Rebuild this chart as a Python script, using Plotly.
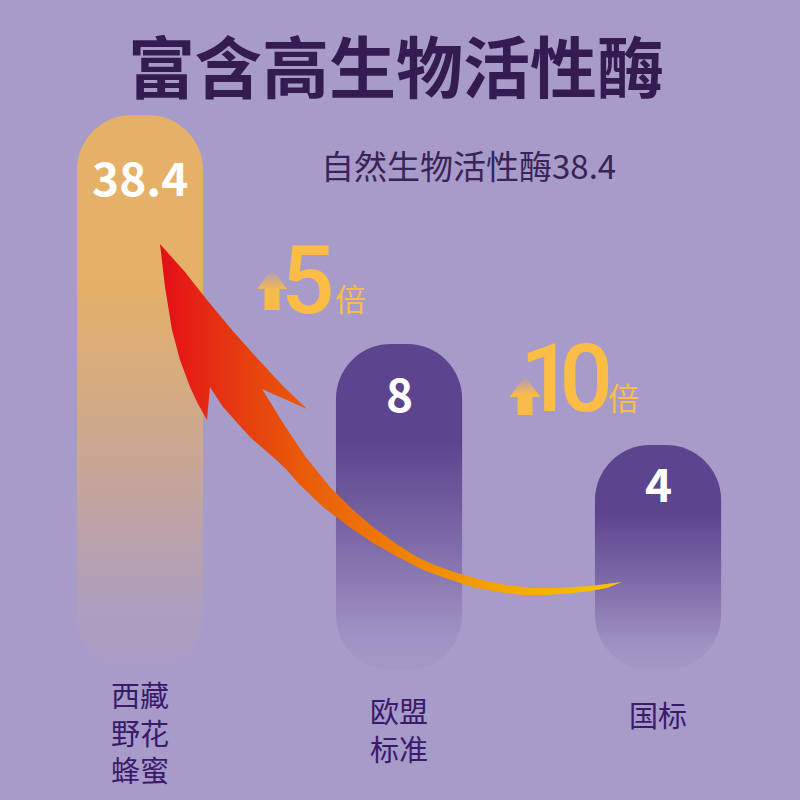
import math
import plotly.graph_objects as go

# ---------------- data ----------------
categories = ["西藏<br>野花<br>蜂蜜", "欧盟<br>标准", "国标"]
values = [38.4, 8, 4]
value_labels = ["38.4", "8", "4"]
title_text = "富含高生物活性酶"
subtitle_prefix = "自然生物活性酶"
ratio_unit = "倍"

# ---------------- style ----------------
BG = "#a79bc9"
BG_RGB = "167,155,201"
bar_colors = ["#e5b067", "#5d448e", "#5d448e"]
label_offsets = [-61, -48, -37]
cat_label_y = [731, 729, 714]
GOLD = "#fbbd45"
TITLE_C = "#341b50"
TEXT_C = "#3a2356"
LABEL_C = "#3b1a6a"
CJK = "Noto Sans CJK SC"
NUM_FONT = "Roboto"

W = H = 800
PLOT_BOTTOM = 670          # pixel row of the bars' base
PX_PER_DECADE = 336
Y_LOW = -0.0675
Y_HIGH = Y_LOW + PLOT_BOTTOM / PX_PER_DECADE
BASE = 10 ** Y_LOW
BAR_W = 0.487
X_RANGE = [-0.5405, 2.548]
FADE_FRAC = 0.7

xs = list(range(len(values)))
fig = go.Figure()

# bars (log scale)
fig.add_trace(go.Bar(
    x=xs, y=[v - BASE for v in values], base=BASE, width=BAR_W,
    marker=dict(color=bar_colors, line=dict(width=0)),
    hoverinfo="skip", showlegend=False,
))

# fading overlays at the bottom of each bar
for i, v in enumerate(values):
    top = 10 ** (Y_LOW + FADE_FRAC * (math.log10(v) - Y_LOW))
    hw = BAR_W / 2 + 0.006
    fig.add_trace(go.Scatter(
        x=[i - hw, i + hw, i + hw, i - hw, i - hw],
        y=[BASE, BASE, top, top, BASE],
        mode="lines", line=dict(width=0, color="rgba(0,0,0,0)"),
        fill="toself",
        fillgradient=dict(type="vertical", colorscale=[
            [0, f"rgba({BG_RGB},0.97)"], [0.15, f"rgba({BG_RGB},0.9)"],
            [0.6, f"rgba({BG_RGB},0.4)"], [1, f"rgba({BG_RGB},0)"]]),
        hoverinfo="skip", showlegend=False,
    ))

# ---------------- decorations in pixel space (x2/y2) ----------------
arrow_path = [
    (160, 244), (185, 272), (207, 300), (232, 330), (257, 358), (282, 385), (307, 409),
    (262, 389), (283, 423), (305, 456), (330, 487), (352, 509), (373, 527), (395, 543),
    (417, 557), (437, 566), (457, 573), (482, 580), (507, 585), (532, 588), (557, 588),
    (590, 586), (622, 582),
    (607, 588), (590, 591), (573, 593), (548, 595), (523, 595), (498, 592), (473, 587),
    (448, 579), (423, 570), (398, 557), (373, 543), (348, 526), (323, 507), (298, 483),
    (287, 470), (273, 457), (250, 437), (223, 407), (210, 387),
    (207, 420), (198, 404), (190, 387), (180, 360), (172, 330), (165, 287), (160, 244),
]
fig.add_trace(go.Scatter(
    x=[p[0] for p in arrow_path], y=[p[1] for p in arrow_path],
    xaxis="x2", yaxis="y2", mode="lines",
    line=dict(width=0, color="rgba(0,0,0,0)"), fill="toself",
    fillgradient=dict(type="horizontal", colorscale=[
        [0, "#e50d18"], [0.1, "#e52a14"], [0.3, "#e8590a"],
        [0.5, "#ee7c05"], [0.75, "#f4a800"], [1, "#f9c600"]]),
    hoverinfo="skip", showlegend=False,
))


def up_arrow(cx, apex, head_base, bottom, head_w, shaft_w):
    xs_ = [cx, cx + head_w / 2, cx + shaft_w / 2, cx + shaft_w / 2,
           cx - shaft_w / 2, cx - shaft_w / 2, cx - head_w / 2, cx]
    ys_ = [apex, head_base, head_base, bottom, bottom, head_base, head_base, apex]
    f = (head_base - apex) / (bottom - apex)
    fig.add_trace(go.Scatter(
        x=xs_, y=ys_, xaxis="x2", yaxis="y2", mode="lines",
        line=dict(width=0, color="rgba(0,0,0,0)"), fill="toself",
        fillgradient=dict(type="vertical", colorscale=[
            [0, "rgba(250,187,70,1)"], [f, "rgba(250,187,70,0.95)"],
            [1, "rgba(250,187,70,0)"]]),
        hoverinfo="skip", showlegend=False,
    ))


up_arrow(272, 269, 289, 310, 30, 15)
up_arrow(525, 376, 397, 415, 31, 15)

annotations = []


def px_text(x, y, text, size, color, family=CJK, weight="normal", xanchor="center"):
    annotations.append(dict(
        x=x, y=y, xref="x2", yref="y2", text=text, showarrow=False,
        xanchor=xanchor, yanchor="middle",
        font=dict(family=family, size=size, color=color, weight=weight)))


# title and subtitle
px_text(396, 63, title_text, 67, TITLE_C, weight="bold")
px_text(468, 165, subtitle_prefix + value_labels[0], 33, TEXT_C)

# ratio call-outs
r1 = round(values[0] / values[1])
r2 = round(values[0] / values[2])
px_text(307, 281, str(r1), 94, GOLD, family=NUM_FONT, weight=500)
px_text(350, 297, ratio_unit, 31, GOLD)
px_text(564, 379, f'<span style="letter-spacing:-14px">{r2}</span>', 94, GOLD,
        family=NUM_FONT, weight=500)
px_text(623, 396, ratio_unit, 31, GOLD)

# value labels inside bars
for i, (v, t) in enumerate(zip(values, value_labels)):
    annotations.append(dict(
        x=i, y=math.log10(v), xref="x", yref="y", text=t, showarrow=False,
        yanchor="middle", yshift=label_offsets[i],
        font=dict(family=CJK, size=46, color="white", weight="bold")))

# category labels under bars
for i, c in enumerate(categories):
    annotations.append(dict(
        x=i, y=-(cat_label_y[i] - PLOT_BOTTOM) / PLOT_BOTTOM, xref="x", yref="paper",
        text=c, showarrow=False, yanchor="middle", align="center",
        font=dict(family=CJK, size=29, color=LABEL_C)))

fig.update_layout(
    width=W, height=H,
    margin=dict(l=0, r=0, t=0, b=H - PLOT_BOTTOM, pad=0),
    paper_bgcolor=BG, plot_bgcolor=BG,
    barcornerradius=55,
    showlegend=False,
    xaxis=dict(range=X_RANGE, visible=False, fixedrange=True),
    yaxis=dict(type="log", range=[Y_LOW, Y_HIGH], visible=False, fixedrange=True),
    xaxis2=dict(range=[0, W], overlaying="x", visible=False, fixedrange=True),
    yaxis2=dict(range=[PLOT_BOTTOM, 0], overlaying="y", visible=False, fixedrange=True),
    annotations=annotations,
)

fig.write_html(
    "out.html",
    config={"displayModeBar": False},
    post_script=f"document.body.style.margin='0';document.body.style.background='{BG}';",
)
